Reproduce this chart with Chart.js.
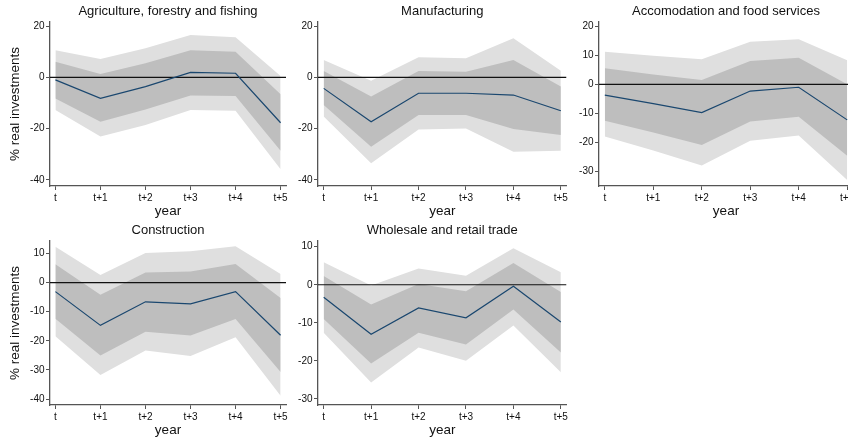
<!DOCTYPE html>
<html>
<head>
<meta charset="utf-8">
<script src="https://cdn.jsdelivr.net/npm/chart.js@4/dist/chart.umd.min.js"></script>
<style>
  html, body { margin: 0; padding: 0; background: #fff; width: 848px; height: 445px; overflow: hidden; }
  .panel { position: absolute; }
</style>
</head>
<body>
<div class="panel" style="left:0;top:0"><canvas id="c-agri" width="290" height="222"></canvas></div>
<div class="panel" style="left:290px;top:0"><canvas id="c-manu" width="280" height="222"></canvas></div>
<div class="panel" style="left:570px;top:0"><canvas id="c-accom" width="290" height="222"></canvas></div>
<div class="panel" style="left:0;top:219px"><canvas id="c-constr" width="290" height="222"></canvas></div>
<div class="panel" style="left:290px;top:219px"><canvas id="c-trade" width="280" height="222"></canvas></div>
<script>
// horizon labels on the x axis
const years = ['t', 't+1', 't+2', 't+3', 't+4', 't+5'];

// Agriculture, forestry and fishing
const agriEst     = [-1.0, -8.2, -3.6, 1.9, 1.6, -17.7];
const agriInnerHi = [6.1, 1.3, 5.5, 10.6, 10.0, -6.6];
const agriInnerLo = [-8.2, -17.3, -12.5, -7.1, -7.3, -28.6];
const agriOuterHi = [10.6, 7.1, 11.3, 16.5, 15.6, 0.5];
const agriOuterLo = [-12.7, -23.1, -18.6, -12.7, -13.0, -35.8];
const agriTicks   = [-40, -20, 0, 20];

// Manufacturing
const manuEst     = [-4.3, -17.3, -6.2, -6.2, -6.9, -13.0];
const manuInnerHi = [2.5, -7.5, 2.5, 2.2, 6.8, -3.6];
const manuInnerLo = [-10.8, -27.0, -14.7, -14.7, -20.1, -22.5];
const manuOuterHi = [6.8, -1.3, 7.8, 7.4, 15.2, 2.6];
const manuOuterLo = [-15.3, -33.5, -20.3, -19.9, -29.0, -28.6];
const manuTicks   = [-40, -20, 0, 20];

// Accomodation and food services
const accomEst     = [-3.7, -6.6, -9.7, -2.3, -1.0, -12.2];
const accomInnerHi = [5.5, 3.4, 1.5, 8.0, 9.1, 0.0];
const accomInnerLo = [-12.5, -16.5, -20.8, -12.8, -11.1, -24.5];
const accomOuterHi = [11.2, 9.8, 8.6, 14.6, 15.5, 8.3];
const accomOuterLo = [-17.9, -22.7, -27.9, -19.4, -17.6, -32.8];
const accomTicks   = [-30, -20, -10, 0, 10, 20];

// Construction
const constrEst     = [-3.1, -14.7, -6.6, -7.3, -3.1, -18.1];
const constrInnerHi = [6.3, -4.2, 3.5, 3.8, 6.4, -5.3];
const constrInnerLo = [-12.4, -25.0, -16.9, -18.2, -12.5, -30.7];
const constrOuterHi = [12.3, 2.6, 10.2, 10.8, 12.5, 3.0];
const constrOuterLo = [-18.4, -31.7, -23.3, -25.2, -18.8, -38.9];
const constrTicks   = [-40, -30, -20, -10, 0, 10];

// Wholesale and retail trade
const tradeEst     = [-3.3, -13.0, -6.1, -8.7, -0.4, -9.8];
const tradeInnerHi = [2.3, -5.2, 0.2, -1.7, 5.7, -1.9];
const tradeInnerLo = [-9.0, -20.7, -12.6, -15.7, -6.5, -17.8];
const tradeOuterHi = [5.9, -0.2, 4.3, 2.4, 9.6, 3.3];
const tradeOuterLo = [-12.6, -25.7, -16.5, -20.0, -10.7, -23.0];
const tradeTicks   = [-30, -20, -10, 0, 10];

// shared styling
const NAVY = '#1a476f', DARK = '#bebebe', LIGHT = '#dfdfdf', AXIS = '#555', INK = '#111';
const X_MIN = -0.12, X_MAX = 5.12;
Chart.defaults.font.family = '"Liberation Sans", Arial, sans-serif';
Chart.defaults.color = INK;

const toXY = arr => arr.map((v, i) => ({ x: i, y: v }));
const band = (arr, fill, color) => ({ data: toXY(arr), fill, backgroundColor: color, borderColor: 'transparent', borderWidth: 0 });

const panels = [
  { id: 'c-agri',   title: 'Agriculture, forestry and fishing', est: agriEst, iHi: agriInnerHi, iLo: agriInnerLo, oHi: agriOuterHi, oLo: agriOuterLo, ticks: agriTicks, yMin: -42.34, yMax: 21.56, yTitle: true, yW: 50, padR: 4 },
  { id: 'c-manu',   title: 'Manufacturing', est: manuEst, iHi: manuInnerHi, iLo: manuInnerLo, oHi: manuOuterHi, oLo: manuOuterLo, ticks: manuTicks, yMin: -42.34, yMax: 21.56, yTitle: false, yW: 28, padR: 3 },
  { id: 'c-accom',  title: 'Accomodation and food services', est: accomEst, iHi: accomInnerHi, iLo: accomInnerLo, oHi: accomOuterHi, oLo: accomOuterLo, ticks: accomTicks, yMin: -34.9, yMax: 21.4, yTitle: false, yW: 29, padR: 7 },
  { id: 'c-constr', title: 'Construction', est: constrEst, iHi: constrInnerHi, iLo: constrInnerLo, oHi: constrOuterHi, oLo: constrOuterLo, ticks: constrTicks, yMin: -42.05, yMax: 14.3, yTitle: true, yW: 50, padR: 4 },
  { id: 'c-trade',  title: 'Wholesale and retail trade', est: tradeEst, iHi: tradeInnerHi, iLo: tradeInnerLo, oHi: tradeOuterHi, oLo: tradeOuterLo, ticks: tradeTicks, yMin: -31.6, yMax: 11.5, yTitle: false, yW: 28, padR: 3 }
];

const axisGrid = { drawOnChartArea: false, drawTicks: true, tickLength: 4, tickColor: AXIS, tickWidth: 1 };

panels.forEach(p => {
  new Chart(document.getElementById(p.id), {
    type: 'line',
    data: { datasets: [
      { data: toXY(p.est), borderColor: NAVY, borderWidth: 1.2, fill: false },
      { data: [{ x: X_MIN, y: 0 }, { x: X_MAX, y: 0 }], borderColor: INK, borderWidth: 1.2, fill: false },
      band(p.iHi, '+1', DARK),
      band(p.iLo, false, DARK),
      band(p.oHi, '+1', LIGHT),
      band(p.oLo, false, LIGHT)
    ]},
    options: {
      responsive: false,
      animation: false,
      layout: { padding: { left: 0, right: p.padR, top: 0, bottom: 0 } },
      elements: { point: { radius: 0, hoverRadius: 0 }, line: { tension: 0 } },
      plugins: {
        legend: { display: false },
        tooltip: { enabled: false },
        title: { display: true, text: p.title, fullSize: false, color: INK,
                 font: { size: 13, weight: 'normal' }, padding: { top: 4, bottom: 2.4 } }
      },
      scales: {
        x: {
          type: 'linear', min: X_MIN, max: X_MAX,
          afterBuildTicks: s => { s.ticks = years.map((_, i) => ({ value: i })); },
          afterFit: s => { s.height = 36; },
          ticks: { callback: v => years[v], autoSkip: false, maxRotation: 0, padding: 2, font: { size: 10 }, color: INK },
          grid: axisGrid,
          border: { color: AXIS, width: 1.3 },
          title: { display: true, text: 'year', font: { size: 13.5 }, color: INK, padding: { top: 0, bottom: 2.5 } }
        },
        y: {
          min: p.yMin, max: p.yMax,
          afterBuildTicks: s => { s.ticks = p.ticks.map(v => ({ value: v })); },
          afterFit: s => { s.width = p.yW; },
          ticks: { padding: 1.5, font: { size: 10 }, color: INK },
          grid: axisGrid,
          border: { color: AXIS, width: 1.3 },
          title: { display: p.yTitle, text: '% real investments', font: { size: 13.5 }, color: INK, padding: { top: 7, bottom: 0 } }
        }
      }
    }
  });
});
</script>
</body>
</html>
